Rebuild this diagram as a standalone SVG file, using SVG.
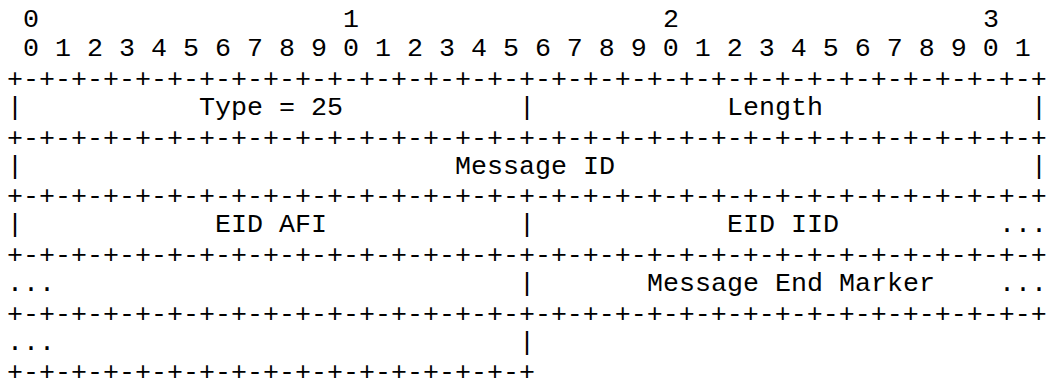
<svg xmlns="http://www.w3.org/2000/svg" width="1050" height="378" viewBox="0 0 1050 378">
<style>
text{font-family:"Courier New","Nimbus Mono PS","Nimbus Mono L",FreeMono,"Liberation Mono",monospace;font-size:26.67px;fill:#000;white-space:pre}
</style>
<rect width="1050" height="378" fill="#fff"/>
<g id="ruler">
<text x="23" y="26.5">0</text>
<text x="343" y="26.5">1</text>
<text x="663" y="26.5">2</text>
<text x="983" y="26.5">3</text>
<text x="7" y="55.9" xml:space="preserve"> 0 1 2 3 4 5 6 7 8 9 0 1 2 3 4 5 6 7 8 9 0 1 2 3 4 5 6 7 8 9 0 1</text>
</g>
<g id="borders">
<text x="7" y="86.8">+-+-+-+-+-+-+-+-+-+-+-+-+-+-+-+-+-+-+-+-+-+-+-+-+-+-+-+-+-+-+-+-+</text>
<text x="7" y="145.6">+-+-+-+-+-+-+-+-+-+-+-+-+-+-+-+-+-+-+-+-+-+-+-+-+-+-+-+-+-+-+-+-+</text>
<text x="7" y="204.4">+-+-+-+-+-+-+-+-+-+-+-+-+-+-+-+-+-+-+-+-+-+-+-+-+-+-+-+-+-+-+-+-+</text>
<text x="7" y="263.2">+-+-+-+-+-+-+-+-+-+-+-+-+-+-+-+-+-+-+-+-+-+-+-+-+-+-+-+-+-+-+-+-+</text>
<text x="7" y="322">+-+-+-+-+-+-+-+-+-+-+-+-+-+-+-+-+-+-+-+-+-+-+-+-+-+-+-+-+-+-+-+-+</text>
<text x="7" y="380.3">+-+-+-+-+-+-+-+-+-+-+-+-+-+-+-+-+</text>
</g>
<g id="field-type">
<text x="7" y="114.7">|</text>
<text x="199" y="114.7">Type = 25</text>
</g>
<g id="field-length">
<text x="519" y="114.7">|</text>
<text x="727" y="114.7">Length</text>
<text x="1031" y="114.7">|</text>
</g>
<g id="field-message-id">
<text x="7" y="173.5">|</text>
<text x="455" y="173.5">Message ID</text>
<text x="1031" y="173.5">|</text>
</g>
<g id="field-eid-afi">
<text x="7" y="232.3">|</text>
<text x="215" y="232.3">EID AFI</text>
</g>
<g id="field-eid-iid">
<text x="519" y="232.3">|</text>
<text x="727" y="232.3">EID IID</text>
<text x="999" y="232.3">...</text>
</g>
<g id="field-eid-cont">
<text x="7" y="291.1">...</text>
</g>
<g id="field-end-marker">
<text x="519" y="291.1">|</text>
<text x="647" y="291.1">Message End Marker</text>
<text x="999" y="291.1">...</text>
</g>
<g id="field-tail">
<text x="7" y="349.9">...</text>
<text x="519" y="349.9">|</text>
</g>
</svg>
